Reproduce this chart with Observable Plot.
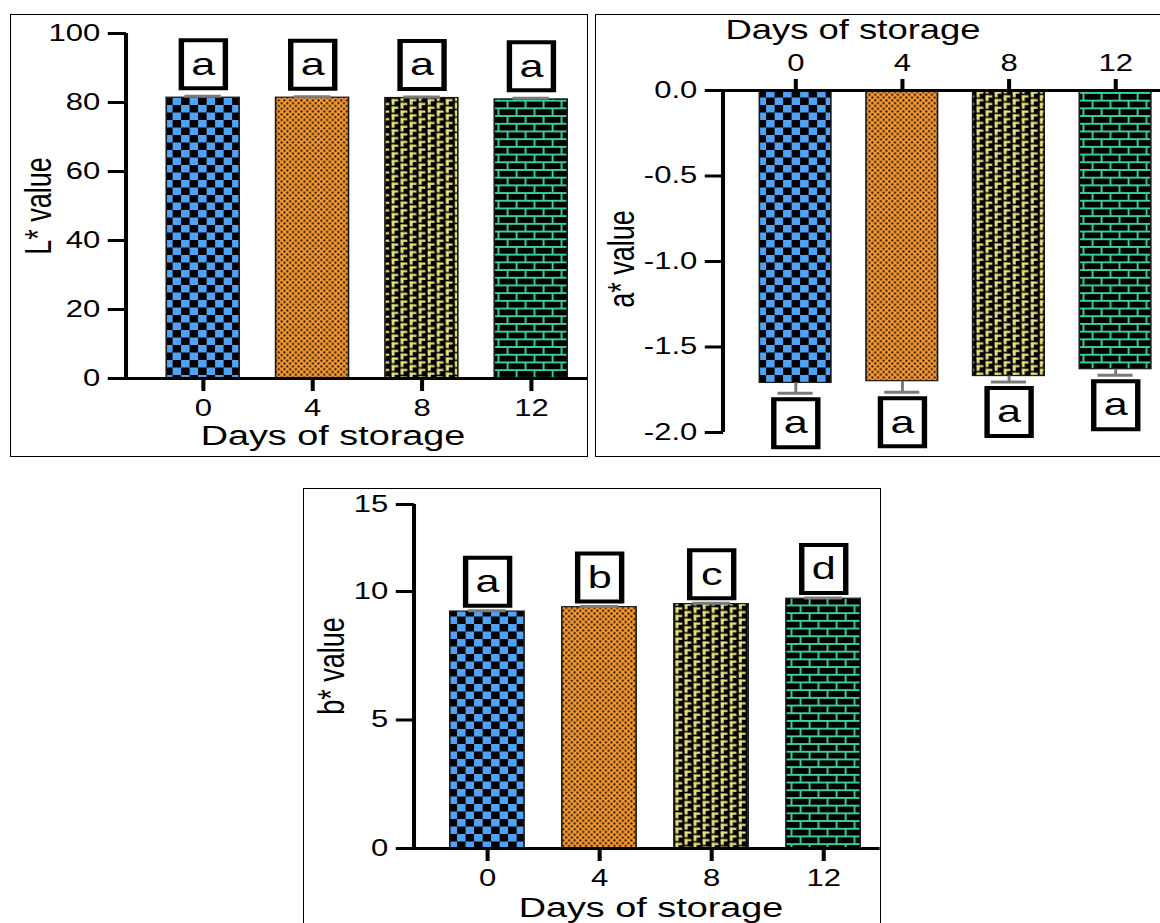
<!DOCTYPE html>
<html>
<head>
<meta charset="utf-8">
<script src="https://cdn.jsdelivr.net/npm/d3@7"></script>
<script src="https://cdn.jsdelivr.net/npm/@observablehq/plot@0.6"></script>
<style>
  html, body { margin: 0; padding: 0; background: #fff; }
  body { width: 1160px; height: 923px; overflow: hidden; position: relative; font-family: "Liberation Sans", Arial, sans-serif; }
  .panel { position: absolute; border: 1.5px solid #000; box-sizing: border-box; overflow: hidden; background: #fff; }
  .panel svg { position: absolute; left: 0; top: 0; transform-origin: 0 0; transform: scaleX(1.35); }
</style>
</head>
<body>
<div id="p1" class="panel" style="left:10px;top:14px;width:578px;height:443px"></div>
<div id="p2" class="panel" style="left:595px;top:14px;width:580px;height:443px"></div>
<div id="p3" class="panel" style="left:303px;top:488px;width:578px;height:450px"></div>
<script>
// ---------------- data ----------------
const days = ["0", "4", "8", "12"];
const xTitle = "Days of storage";

const lValues = [81.4, 81.4, 81.3, 80.9];
const lErrors = [0.4, 0.3, 0.3, 0.3];
const lLetters = ["a", "a", "a", "a"];
const lTicks = [0, 20, 40, 60, 80, 100];
const lLabel = "L* value";

const aValues = [-1.71, -1.70, -1.67, -1.63];
const aErrors = [0.06, 0.065, 0.035, 0.035];
const aLetters = ["a", "a", "a", "a"];
const aTicks = [0, -0.5, -1, -1.5, -2];
const aLabel = "a* value";

const bValues = [9.22, 9.39, 9.51, 9.72];
const bErrors = [0.03, 0.03, 0.03, 0.03];
const bLetters = ["a", "b", "c", "d"];
const bTicks = [0, 5, 10, 15];
const bLabel = "b* value";
const bBreak = 10;              // b* axis is compressed above this value
const bUpperRatio = 87 / 128.5; // relative length of the upper segment

const patternNames = ["blue", "orange", "yellow", "green"];

// ---------------- styling ----------------
const S = 1.35; // horizontal stretch of the figure
const BLUE = "#4fa3f7", ORANGE = "#f5982f", YELLOW = "#e8e07c", GREEN = "#36d69b";
const FONT = "Liberation Sans, Arial, Helvetica, sans-serif";
const TICK_FONT = 23;

function addPatterns(svg, p) {
  const defs = d3.select(svg).insert("defs", ":first-child");
  const pat = (name, w, h) => {
    const g = defs.append("pattern").attr("id", p + name)
      .attr("patternUnits", "userSpaceOnUse").attr("width", w).attr("height", h);
    g.append("rect").attr("width", w).attr("height", h).attr("fill", "#000");
    return g;
  };
  const r = (g, x, y, w, h, c) => g.append("rect").attr("x", x).attr("y", y).attr("width", w).attr("height", h).attr("fill", c);
  // blue checkerboard
  let g = pat("blue", 12.6, 15);
  r(g, 0, 0, 6.3, 7.5, BLUE); r(g, 6.3, 7.5, 6.3, 7.5, BLUE);
  // orange fine checker
  g = pat("orange", 4.2, 5.6);
  g.select("rect").attr("fill", ORANGE);
  r(g, 0.3, 0.4, 1.4, 1.9, "#000"); r(g, 2.4, 3.2, 1.4, 1.9, "#000");
  // yellow corner shapes
  g = pat("yellow", 13.4, 7.6);
  for (const [x0, y0] of [[0, 0], [6.7, 3.8], [6.7, -3.8]]) {
    r(g, x0 + 0.5, y0 + 0.5, 5.0, 2.2, YELLOW);
    r(g, x0 + 0.5, y0 + 0.5, 2.2, 5.8, YELLOW);
  }
  // green bricks
  g = pat("green", 26.7, 15.4);
  r(g, 0, 0, 26.7, 1.9, GREEN); r(g, 0, 7.7, 26.7, 1.9, GREEN);
  r(g, 0, 0, 1.4, 7.7, GREEN); r(g, 13.35, 0, 1.4, 7.7, GREEN);
  r(g, 6.67, 7.7, 1.4, 7.7, GREEN); r(g, 20.0, 7.7, 1.4, 7.7, GREEN);
}

const boxSymbol = (w, h) => ({ draw(ctx) { ctx.rect(-w / 2, -h / 2, w, h); } });

function panel(cfg) {
  const tf = cfg.yTransform || (v => v);
  const table = days.map((d, i) => ({
    day: d,
    value: tf(cfg.values[i]),
    tip: tf(cfg.values[i] + cfg.sign * cfg.errors[i]),
    letter: cfg.letters[i],
    fill: `url(#${cfg.id}${patternNames[i]})`
  }));
  const tickPos = cfg.ticks.map(tf);
  const chart = Plot.plot({
    width: cfg.W, height: cfg.H,
    marginLeft: cfg.ml, marginRight: cfg.mr, marginTop: cfg.mt, marginBottom: cfg.mb,
    style: { fontFamily: FONT, fontSize: TICK_FONT + "px", background: "transparent", overflow: "visible", color: "#000" },
    x: { type: "band", domain: days, range: cfg.xRange, paddingInner: 0.335, paddingOuter: 0 },
    y: { domain: d3.extent(tickPos) },
    color: { type: "identity" },
    marks: [
      Plot.barY(table, { x: "day", y1: 0, y2: "value", fill: "fill", stroke: "#1a1a1a", strokeWidth: 1.2 }),
      Plot.ruleX(table, { x: "day", y1: "value", y2: "tip", stroke: "#7a7a7a", strokeWidth: 2.2 }),
      Plot.tickY(table, { x: "day", y: "tip", stroke: "#7a7a7a", strokeWidth: 3, insetLeft: 13.5, insetRight: 13.5 }),
      Plot.ruleY([0], { stroke: "#000", strokeWidth: 3 }),
      Plot.axisY({ ticks: tickPos, tickFormat: d => cfg.tickFormat(cfg.ticks[tickPos.indexOf(d)]), tickSize: 13.5, tickPadding: 6, strokeWidth: 3, fontSize: TICK_FONT, label: null }),
      Plot.axisX({ anchor: cfg.xAnchor, tickSize: cfg.xTickSize, tickPadding: cfg.xTickPadding, strokeWidth: 3, fontSize: TICK_FONT, label: null }),
      Plot.dot(table, { x: "day", y: "tip", dy: cfg.boxDy, symbol: boxSymbol(32.6, 48), r: 10, fill: "white", stroke: "#000", strokeWidth: 4 }),
      Plot.text(table, { x: "day", y: "tip", dy: cfg.boxDy, text: "letter", fontSize: 32, fill: "#000" })
    ]
  });
  addPatterns(chart, cfg.id);
  const ys = chart.scale("y");
  const svg = d3.select(chart);
  const ext = d3.extent(tickPos);
  svg.append("line")
    .attr("x1", cfg.ml).attr("x2", cfg.ml)
    .attr("y1", ys.apply(ext[0])).attr("y2", ys.apply(ext[1]))
    .attr("stroke", "#000").attr("stroke-width", 3);
  svg.append("text")
    .attr("x", cfg.titleX).attr("y", cfg.titleY)
    .attr("text-anchor", "middle").attr("font-size", cfg.titleSize).attr("fill", "#000")
    .text(xTitle);
  svg.append("text")
    .attr("transform", `translate(${cfg.labX},${cfg.labY}) rotate(-90)`)
    .attr("text-anchor", "middle").attr("dominant-baseline", "central")
    .attr("font-size", 27).attr("fill", "#000")
    .text(cfg.label);
  document.getElementById(cfg.id).appendChild(chart);
}

// Panel 1: L*
panel({
  id: "p1", W: 578 / S, H: 442, ml: 115 / S, mr: 1, mt: 18, mb: 79,
  xRange: [154 / S, 557 / S],
  values: lValues, errors: lErrors, letters: lLetters, sign: 1,
  ticks: lTicks, tickFormat: d => String(d),
  xAnchor: "bottom", xTickSize: 13, xTickPadding: 8,
  boxDy: -32,
  titleX: 322 / S, titleY: 430, titleSize: 28, labX: 27 / S, labY: 191, label: lLabel
});

// Panel 2: a*
panel({
  id: "p2", W: 580 / S, H: 442, ml: 127 / S, mr: 0, mt: 75, mb: 25,
  xRange: [162 / S, 555 / S],
  values: aValues, errors: aErrors, letters: aLetters, sign: -1,
  ticks: aTicks, tickFormat: d => d.toFixed(1),
  xAnchor: "top", xTickSize: 12, xTickPadding: 7,
  boxDy: 30,
  titleX: 257 / S, titleY: 24.5, titleSize: 27, labX: 25 / S, labY: 244, label: aLabel
});

// Panel 3: b* (segmented axis: the part above 10 is compressed)
const bTransform = v => v <= bBreak ? v : bBreak + (v - bBreak) * bUpperRatio;
panel({
  id: "p3", W: 577 / S, H: 435, ml: 110 / S, mr: 1, mt: 15, mb: 76,
  xRange: [145 / S, 557 / S],
  yTransform: bTransform,
  values: bValues, errors: bErrors, letters: bLetters, sign: 1,
  ticks: bTicks, tickFormat: d => String(d),
  xAnchor: "bottom", xTickSize: 13, xTickPadding: 8,
  boxDy: -29,
  titleX: 347 / S, titleY: 428, titleSize: 28, labX: 27 / S, labY: 177, label: bLabel
});
</script>
</body>
</html>
